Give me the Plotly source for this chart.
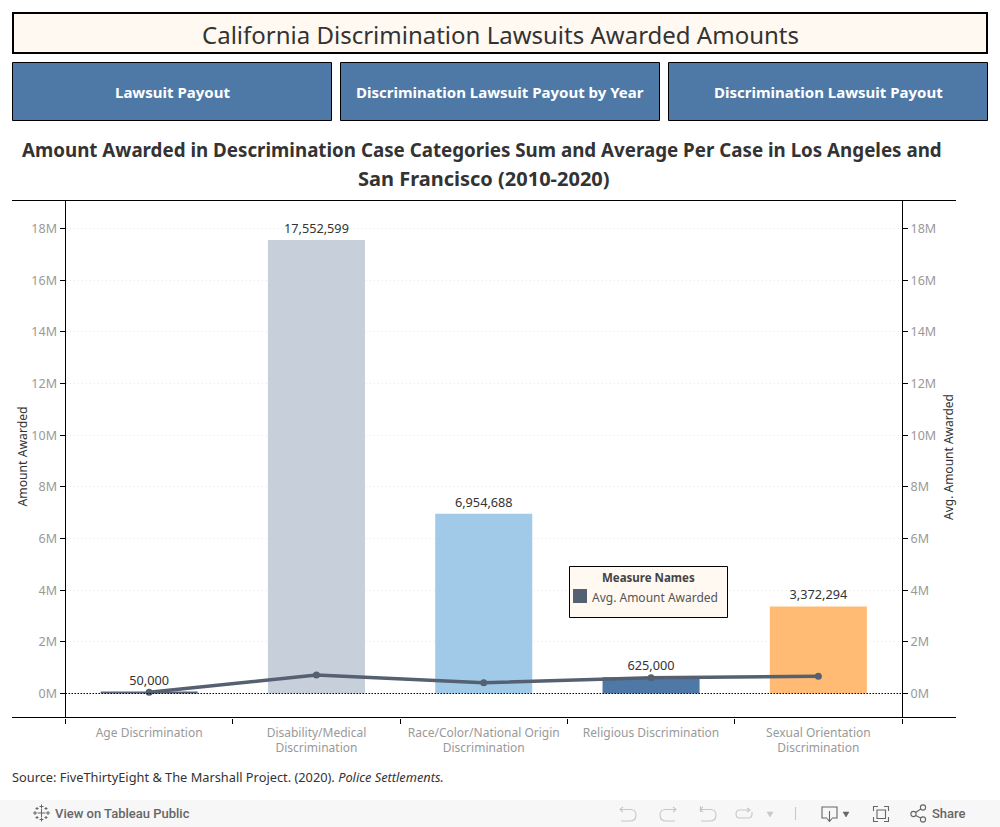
import plotly.graph_objects as go

categories = ["Age Discrimination", "Disability/Medical<br>Discrimination",
              "Race/Color/National Origin<br>Discrimination", "Religious Discrimination",
              "Sexual Orientation<br>Discrimination"]
amount_awarded = [50000, 17552599, 6954688, 625000, 3372294]
avg_awarded = [46000, 716000, 420000, 610000, 666000]
bar_colors = ["#5a6577", "#c6cfda", "#a1cae8", "#4e79a7", "#ffbb74"]
tick_vals = [0, 2e6, 4e6, 6e6, 8e6, 10e6, 12e6, 14e6, 16e6, 18e6]
tick_text = ["0M", "2M", "4M", "6M", "8M", "10M", "12M", "14M", "16M", "18M"]
y_range = [-0.929e6, 19.085e6]

FONT = "Noto Sans"
W, H = 1000, 827
px = lambda v: v / W
py = lambda v: 1 - v / H

fig = go.Figure()
fig.add_trace(go.Bar(x=categories, y=amount_awarded, marker=dict(color=bar_colors, line_width=0),
                     width=0.58, showlegend=False, texttemplate="%{y:,d}", textposition="outside",
                     textfont=dict(size=12.7, color="#333333", family=FONT), cliponaxis=False))
fig.add_trace(go.Scatter(x=categories, y=avg_awarded, yaxis="y2", mode="lines+markers",
                         name="Avg. Amount Awarded",
                         line=dict(color="#556070", width=3.5), marker=dict(color="#556070", size=7),
                         showlegend=False))

shapes = []
def box(x0, y0, x1, y1, fill=None, line=None, lw=1, layer="below"):
    shapes.append(dict(type="rect", xref="paper", yref="paper", x0=px(x0), x1=px(x1), y0=py(y0), y1=py(y1),
                       fillcolor=fill or "rgba(0,0,0,0)",
                       line=dict(color=line or "rgba(0,0,0,0)", width=lw if line else 0),
                       layer=layer))
def hline(x0, x1, y, color="#000000", lw=1):
    shapes.append(dict(type="line", xref="paper", yref="paper", x0=px(x0), x1=px(x1), y0=py(y), y1=py(y),
                       line=dict(color=color, width=lw)))

annots = []
def text(x, y, s, size, color, bold=False, family=FONT, anchor="center", angle=0, weight=None):
    f = dict(size=size, color=color, family=family)
    if weight:
        f["weight"] = weight
    annots.append(dict(xref="paper", yref="paper", x=px(x), y=py(y), text=f"<b>{s}</b>" if bold else s,
                       showarrow=False, xanchor=anchor, yanchor="middle", textangle=angle, font=f))

# header
box(13, 13, 987, 53, fill="#fff9f2", line="#000000", lw=2)
text(500.5, 34, "California Discrimination Lawsuits Awarded Amounts", 24, "#333333")
for x0, x1, label in [(12.5, 331.5, "Lawsuit Payout"), (340.5, 659.5, "Discrimination Lawsuit Payout by Year"),
                      (668.5, 987.5, "Discrimination Lawsuit Payout")]:
    box(x0, 62.5, x1, 120.5, fill="#4e79a7", line="#000000", lw=1)
    text((x0 + x1) / 2, 92, label, 15, "#ffffff", bold=True)
text(481.5, 149.5, "Amount Awarded in Descrimination Case Categories Sum and Average Per Case in Los Angeles and", 18.75, "#333333", bold=True)
text(484, 178, "San Francisco (2010-2020)", 20, "#333333", bold=True)

# frame lines and zero line
hline(12, 956, 200.5)
hline(12, 956, 717.5)
shapes.append(dict(type="line", xref="x domain", yref="y", x0=0, x1=1, y0=0, y1=0,
                   line=dict(color="#000000", width=1.2, dash="1.5px,1.5px")))

# axis titles / source
text(22, 456.5, "Amount Awarded", 12.2, "#333333", angle=-90)
text(948, 457, "Avg. Amount Awarded", 12, "#333333", angle=-90)
text(10, 777, "Source: FiveThirtyEight &amp; The Marshall Project. (2020). <i>Police Settlements.</i>", 12.8, "#333333", anchor="left")

# legend
box(569.5, 566.5, 727.5, 617.5, fill="#fff9f2", line="#000000", lw=1, layer="above")
box(573, 589, 587, 603, fill="#556070", layer="above")
text(648.5, 577, "Measure Names", 11.5, "#444444", bold=True)
text(590, 597, "Avg. Amount Awarded", 12, "#555555", anchor="left")

# toolbar
box(0, 800, 1000, 827, fill="#f7f7f7")
text(53, 813.5, "View on Tableau Public", 13, "#666666", family="Roboto", anchor="left", weight=500)
text(930, 813.5, "Share", 13, "#666666", family="Roboto", anchor="left", weight=500)

def p(*tokens):
    out, coords = [], []
    for t in tokens:
        if isinstance(t, str):
            out.append(t)
        else:
            coords.append(t)
            if len(coords) == 2:
                out.append(f"{px(coords[0]):.5f} {py(coords[1]):.5f}")
                coords = []
    return " ".join(out)
def icon(path, color="#666666", lw=1.1, fill=None):
    s = dict(type="path", xref="paper", yref="paper", path=path, line=dict(color=color, width=lw))
    if fill:
        s["fillcolor"] = fill
    shapes.append(s)
LIGHT = "#c8c8c8"
DARK = "#666666"
def hook_left(x):
    icon(p("M", x, 809.5, "L", x + 10, 809.5, "Q", x + 16, 809.5, x + 16, 815, "Q", x + 16, 821, x + 10, 821, "L", x + 1, 821), LIGHT)
    icon(p("M", x + 3, 807, "L", x, 809.5, "L", x + 3, 812), LIGHT)
hook_left(620)
icon(p("M", 676, 809.5, "L", 666, 809.5, "Q", 660, 809.5, 660, 815, "Q", 660, 821, 666, 821, "L", 675, 821), LIGHT)
icon(p("M", 673, 807, "L", 676, 809.5, "L", 673, 812), LIGHT)
hook_left(700)
icon(p("M", 700.5, 806, "L", 700.5, 812), LIGHT)
icon(p("M", 749, 810, "L", 740, 810, "Q", 736, 810, 736, 814, "Q", 736, 818, 740, 818, "L", 748, 818, "Q", 752, 818, 752, 814, "L", 752, 812), LIGHT)
icon(p("M", 747, 808, "L", 750, 810, "L", 747, 812), LIGHT)
icon(p("M", 767, 812, "L", 773, 812, "L", 770, 817, "Z"), LIGHT, 0.5, LIGHT)
icon(p("M", 795.5, 807, "L", 795.5, 820), LIGHT)
icon(p("M", 827, 818, "L", 822, 818, "L", 822, 807, "L", 837, 807, "L", 837, 818, "L", 832, 818), DARK)
icon(p("M", 829.5, 811, "L", 829.5, 821), DARK)
icon(p("M", 827, 818.5, "L", 829.5, 821.5, "L", 832, 818.5), DARK)
icon(p("M", 843, 812, "L", 849, 812, "L", 846, 817, "Z"), DARK, 0.5, DARK)
icon(p("M", 873.5, 811, "L", 873.5, 806.5, "L", 878, 806.5, "M", 884, 806.5, "L", 888.5, 806.5, "L", 888.5, 811,
       "M", 888.5, 817, "L", 888.5, 821.5, "L", 884, 821.5, "M", 878, 821.5, "L", 873.5, 821.5, "L", 873.5, 817), DARK)
icon(p("M", 877, 810, "L", 885.5, 810, "L", 885.5, 818.5, "L", 877, 818.5, "Z"), DARK)
for cx, cy in [(913.5, 814), (923, 807.5), (923, 819.5)]:
    shapes.append(dict(type="circle", xref="paper", yref="paper", x0=px(cx - 2.6), x1=px(cx + 2.6),
                       y0=py(cy - 2.6), y1=py(cy + 2.6), line=dict(color=DARK, width=1.1)))
icon(p("M", 915.6, 812.5, "L", 920.8, 809, "M", 915.6, 815.5, "L", 920.8, 818), DARK)
for cx, cy, r in [(41.5, 813, 4), (41.5, 806.5, 2), (41.5, 819.5, 2), (35, 813, 2), (48, 813, 2),
                  (37, 808.5, 1.5), (46, 808.5, 1.5), (37, 817.5, 1.5), (46, 817.5, 1.5)]:
    icon(p("M", cx - r, cy, "L", cx + r, cy, "M", cx, cy - r, "L", cx, cy + r), DARK, 1)

fig.update_layout(
    width=W, height=H, margin=dict(l=0, r=0, t=0, b=0), paper_bgcolor="#ffffff", plot_bgcolor="#ffffff",
    barmode="overlay", shapes=shapes, annotations=annots, font=dict(family=FONT), showlegend=False,
    xaxis=dict(domain=[px(65.5), px(902)], type="category", categoryorder="array", categoryarray=categories,
               range=[-0.5, 4.5], tickson="boundaries", ticks="outside", ticklen=5, tickcolor="#000000",
               tickfont=dict(size=12, color="#999999", family=FONT), showline=False, showgrid=False, tickangle=0,
               anchor="y", ticklabelstandoff=6),
    yaxis=dict(domain=[py(717.5), py(200.5)], range=y_range, tickvals=tick_vals, ticktext=tick_text,
               ticks="outside", ticklen=5, tickcolor="#000000", showline=True, linecolor="#000000", linewidth=1,
               showgrid=True, gridcolor="#e8e8e8", griddash="1px,3px", gridwidth=1, zeroline=False,
               tickfont=dict(size=12.5, color="#999999", family=FONT)),
    yaxis2=dict(overlaying="y", side="right", range=y_range, tickvals=tick_vals, ticktext=tick_text,
                ticks="outside", ticklen=5, tickcolor="#000000", showline=True, linecolor="#000000", linewidth=1,
                showgrid=False, zeroline=False, anchor="x",
                tickfont=dict(size=12.5, color="#999999", family=FONT)),
    hovermode=False,
)
fig.write_html("out.html", config=dict(displayModeBar=False),
               post_script="document.body.style.margin='0';document.body.style.overflow='hidden';")
